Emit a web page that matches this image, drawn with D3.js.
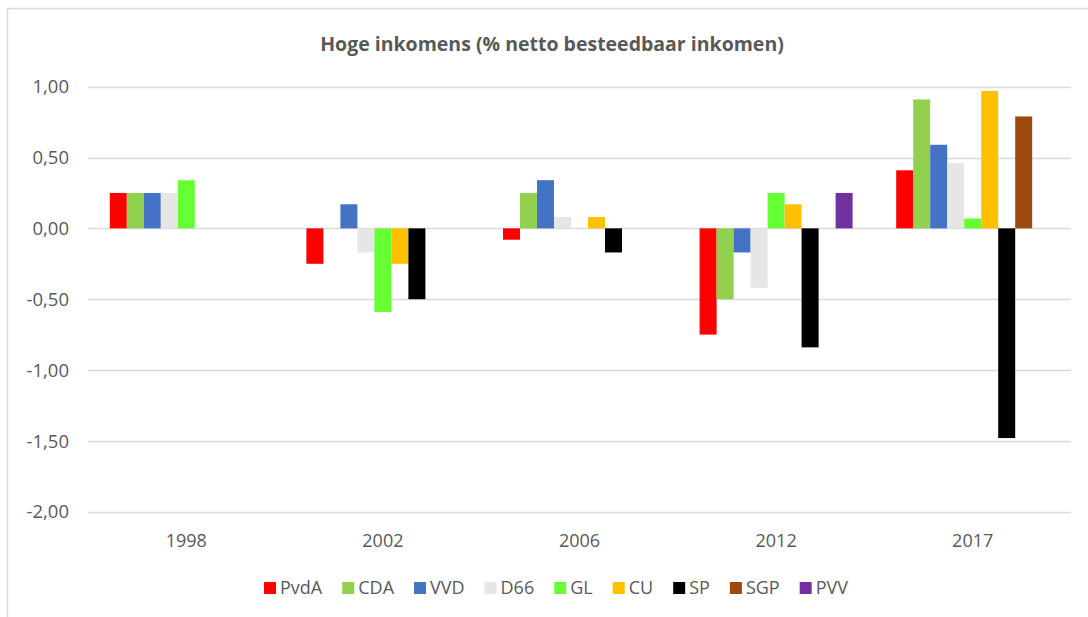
<!DOCTYPE html>
<html>
<head>
<meta charset="utf-8">
<title>Hoge inkomens</title>
<script src="https://cdn.jsdelivr.net/npm/d3@7"></script>
<style>
body { margin: 0; background: #fff; }
svg text { font-family: "Open Sans", sans-serif; fill: #595959; }
</style>
</head>
<body>
<svg id="chart" width="1088" height="617"></svg>
<script>
// data
var years = ["1998", "2002", "2006", "2012", "2017"];
var parties = ["PvdA", "CDA", "VVD", "D66", "GL", "CU", "SP", "SGP", "PVV"];
var colors = ["#ff0000", "#92d050", "#4472c4", "#e7e6e6", "#66ff33", "#ffc000", "#000000", "#9e480e", "#7030a0"];
// one array per year, same order as parties (null = no bar)
var v1998 = [0.25, 0.25, 0.25, 0.25, 0.34, null, null, null, null];
var v2002 = [-0.25, null, 0.17, -0.17, -0.59, -0.25, -0.50, null, null];
var v2006 = [-0.08, 0.25, 0.34, 0.08, null, 0.08, -0.17, null, null];
var v2012 = [-0.75, -0.50, -0.17, -0.42, 0.25, 0.17, -0.84, null, 0.25];
var v2017 = [0.41, 0.91, 0.59, 0.46, 0.07, 0.97, -1.48, 0.79, null];
var yTicks = [1, 0.5, 0, -0.5, -1, -1.5, -2];

var values = [v1998, v2002, v2006, v2012, v2017];

var svg = d3.select("#chart");

// chart frame (only top and left edges are visible in the picture)
svg.append("path")
  .attr("d", "M7.5,617 V8.5 H1088")
  .attr("fill", "none")
  .attr("stroke", "#d9d9d9")
  .attr("stroke-width", 1.5);

var y = d3.scaleLinear().domain([-2, 1]).range([511.7, 86.7]);
var x0 = d3.scaleBand().domain(years).range([88, 1071]);
var bw = 17;
var groupW = bw * parties.length;
var x1 = d3.scaleBand().domain(parties)
  .range([(x0.bandwidth() - groupW) / 2, (x0.bandwidth() + groupW) / 2]);

var fmt = function(d) { return d3.format(".2f")(d).replace(".", ",").replace("−", "-"); };

// gridlines
svg.append("g").selectAll("line")
  .data(yTicks)
  .enter().append("line")
  .attr("x1", 88).attr("x2", 1071)
  .attr("y1", function(d) { return Math.round(y(d)) + 0.5; })
  .attr("y2", function(d) { return Math.round(y(d)) + 0.5; })
  .attr("stroke", "#d9d9d9")
  .attr("stroke-width", 1.5);

// y labels
svg.append("g").selectAll("text")
  .data(yTicks)
  .enter().append("text")
  .attr("x", 69)
  .attr("y", function(d) { return y(d); })
  .attr("dy", "0.36em")
  .attr("text-anchor", "end")
  .style("font-size", "18.5px")
  .text(fmt);

// bars
var groups = svg.append("g").selectAll("g")
  .data(years)
  .enter().append("g")
  .attr("transform", function(d) { return "translate(" + x0(d) + ",0)"; });

groups.selectAll("rect")
  .data(function(d, i) {
    return parties.map(function(p, j) { return { party: p, value: values[i][j], color: colors[j] }; })
      .filter(function(o) { return o.value !== null; });
  })
  .enter().append("rect")
  .attr("x", function(d) { return x1(d.party); })
  .attr("width", x1.bandwidth())
  .attr("y", function(d) { return y(Math.max(0, d.value)); })
  .attr("height", function(d) { return Math.abs(y(d.value) - y(0)); })
  .attr("fill", function(d) { return d.color; });

// year labels
svg.append("g").selectAll("text")
  .data(years)
  .enter().append("text")
  .attr("x", function(d) { return x0(d) + x0.bandwidth() / 2; })
  .attr("y", 547)
  .attr("text-anchor", "middle")
  .style("font-size", "18px")
  .text(function(d) { return d; });

// title
svg.append("text")
  .attr("x", 552)
  .attr("y", 51)
  .attr("text-anchor", "middle")
  .style("font-size", "19.5px")
  .style("font-weight", "bold")
  .text("Hoge inkomens (% netto besteedbaar inkomen)");

// legend
var legend = svg.append("g");
var lx = 0;
parties.forEach(function(p, i) {
  var item = legend.append("g").attr("transform", "translate(" + lx + ",0)");
  item.append("rect")
    .attr("x", 0).attr("y", -6)
    .attr("width", 12).attr("height", 12)
    .attr("fill", colors[i]);
  var t = item.append("text")
    .attr("x", 16)
    .attr("dy", "0.36em")
    .style("font-size", "18px")
    .text(p);
  lx += 16 + t.node().getComputedTextLength() + 20;
});
lx -= 20;
legend.attr("transform", "translate(" + (556 - lx / 2) + ",588)");
</script>
</body>
</html>
